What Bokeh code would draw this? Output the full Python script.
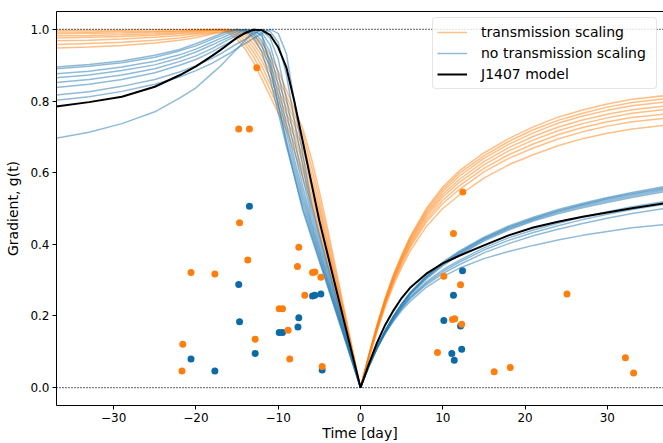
from bokeh.plotting import figure
from bokeh.models import (Range1d, LinearAxis, Span, Legend, LegendItem,
                          CustomJSTickFormatter, FixedTicker)
from bokeh.embed import file_html
from bokeh.resources import INLINE

# ---------------- data ----------------
T_LEFT = [-37, -33, -29, -25, -22, -20, -18, -17, -16, -15, -14, -13, -12, -11, -10,
          -9, -8, -7, -6, -5, -4, -3, -2, -1, 0]
T_RIGHT = [0, 1, 2, 3, 4, 5, 6, 8, 10, 12, 15, 18, 21, 24, 27, 30, 33, 37]

# transmission scaling curves (before / after t = 0)
o1_pre = [0.998, 0.998, 0.998, 0.999, 0.999, 1.0, 1.0, 0.999, 0.990, 0.972, 0.945, 0.908, 0.862, 0.814, 0.767, 0.719, 0.657, 0.586, 0.514, 0.431, 0.345, 0.259, 0.172, 0.086, 0.0]
o2_pre = [0.993, 0.993, 0.994, 0.995, 0.996, 0.998, 0.999, 1.0, 0.995, 0.981, 0.957, 0.924, 0.880, 0.832, 0.783, 0.734, 0.678, 0.604, 0.530, 0.446, 0.357, 0.268, 0.179, 0.089, 0.0]
o3_pre = [0.988, 0.989, 0.990, 0.992, 0.994, 0.996, 0.999, 1.0, 0.998, 0.988, 0.967, 0.937, 0.898, 0.848, 0.799, 0.749, 0.700, 0.623, 0.546, 0.463, 0.370, 0.278, 0.185, 0.093, 0.0]
o4_pre = [0.982, 0.983, 0.985, 0.988, 0.991, 0.994, 0.998, 1.0, 1.0, 0.993, 0.976, 0.949, 0.913, 0.865, 0.815, 0.765, 0.715, 0.644, 0.564, 0.481, 0.385, 0.288, 0.192, 0.096, 0.0]
o5_pre = [0.976, 0.978, 0.980, 0.984, 0.988, 0.991, 0.996, 0.998, 1.0, 0.997, 0.984, 0.960, 0.927, 0.882, 0.832, 0.781, 0.730, 0.666, 0.581, 0.495, 0.396, 0.297, 0.198, 0.099, 0.0]
o6_pre = [0.968, 0.970, 0.973, 0.978, 0.983, 0.988, 0.993, 0.996, 0.998, 0.999, 0.990, 0.970, 0.940, 0.900, 0.849, 0.797, 0.746, 0.691, 0.600, 0.509, 0.408, 0.306, 0.204, 0.102, 0.0]
o7_pre = [0.958, 0.961, 0.964, 0.970, 0.976, 0.983, 0.990, 0.993, 0.997, 1.0, 0.995, 0.979, 0.952, 0.915, 0.866, 0.813, 0.761, 0.708, 0.621, 0.528, 0.426, 0.319, 0.213, 0.106, 0.0]
o8_pre = [0.948, 0.951, 0.955, 0.962, 0.970, 0.977, 0.987, 0.991, 0.995, 0.999, 0.998, 0.986, 0.963, 0.930, 0.884, 0.830, 0.776, 0.722, 0.643, 0.548, 0.444, 0.333, 0.222, 0.111, 0.0]

o1_post = [0, 0.090, 0.175, 0.250, 0.315, 0.370, 0.420, 0.500, 0.560, 0.605, 0.655, 0.695, 0.728, 0.755, 0.775, 0.792, 0.805, 0.815]
o2_post = [0, 0.089, 0.173, 0.247, 0.312, 0.366, 0.416, 0.495, 0.554, 0.598, 0.647, 0.687, 0.720, 0.746, 0.766, 0.783, 0.796, 0.806]
o3_post = [0, 0.088, 0.171, 0.245, 0.308, 0.362, 0.411, 0.489, 0.547, 0.590, 0.640, 0.679, 0.711, 0.738, 0.758, 0.774, 0.787, 0.797]
o4_post = [0, 0.087, 0.168, 0.241, 0.305, 0.358, 0.406, 0.483, 0.539, 0.581, 0.631, 0.670, 0.701, 0.727, 0.747, 0.763, 0.776, 0.786]
o5_post = [0, 0.085, 0.166, 0.238, 0.301, 0.354, 0.401, 0.477, 0.532, 0.573, 0.622, 0.661, 0.691, 0.717, 0.737, 0.753, 0.766, 0.776]
o6_post = [0, 0.084, 0.163, 0.235, 0.297, 0.349, 0.395, 0.469, 0.523, 0.563, 0.612, 0.650, 0.680, 0.706, 0.726, 0.742, 0.754, 0.764]
o7_post = [0, 0.082, 0.160, 0.231, 0.292, 0.343, 0.390, 0.462, 0.514, 0.553, 0.602, 0.640, 0.669, 0.694, 0.714, 0.730, 0.742, 0.752]
o8_post = [0, 0.080, 0.155, 0.225, 0.285, 0.335, 0.380, 0.450, 0.500, 0.537, 0.585, 0.622, 0.650, 0.675, 0.695, 0.710, 0.722, 0.732]

# no transmission scaling curves
b1_pre = [0.696, 0.713, 0.737, 0.770, 0.808, 0.837, 0.878, 0.898, 0.922, 0.946, 0.970, 0.994, 0.986, 0.900, 0.789, 0.681, 0.586, 0.493, 0.422, 0.352, 0.282, 0.211, 0.141, 0.070, 0.0]
b2_pre = [0.895, 0.902, 0.912, 0.928, 0.944, 0.960, 0.978, 0.987, 0.996, 1.0, 0.995, 0.977, 0.938, 0.862, 0.767, 0.674, 0.587, 0.500, 0.429, 0.357, 0.286, 0.214, 0.143, 0.071, 0.0]
b3_pre = [0.890, 0.897, 0.907, 0.922, 0.940, 0.954, 0.973, 0.982, 0.991, 1.0, 0.998, 0.987, 0.955, 0.890, 0.790, 0.691, 0.602, 0.513, 0.438, 0.365, 0.292, 0.219, 0.146, 0.073, 0.0]
b4_pre = [0.876, 0.883, 0.895, 0.911, 0.929, 0.945, 0.965, 0.975, 0.985, 0.995, 1.0, 0.993, 0.969, 0.915, 0.816, 0.711, 0.618, 0.527, 0.448, 0.373, 0.298, 0.224, 0.149, 0.075, 0.0]
b5_pre = [0.865, 0.873, 0.885, 0.901, 0.920, 0.937, 0.957, 0.968, 0.978, 0.989, 1.0, 0.998, 0.981, 0.937, 0.844, 0.733, 0.635, 0.542, 0.458, 0.382, 0.305, 0.229, 0.153, 0.076, 0.0]
b6_pre = [0.852, 0.860, 0.873, 0.890, 0.910, 0.926, 0.947, 0.960, 0.972, 0.983, 0.994, 1.0, 0.991, 0.957, 0.878, 0.767, 0.660, 0.560, 0.469, 0.391, 0.313, 0.234, 0.156, 0.078, 0.0]
b7_pre = [0.838, 0.847, 0.860, 0.879, 0.900, 0.916, 0.938, 0.951, 0.963, 0.976, 0.988, 1.0, 0.997, 0.976, 0.918, 0.806, 0.689, 0.584, 0.484, 0.403, 0.323, 0.242, 0.161, 0.081, 0.0]
b8_pre = [0.817, 0.826, 0.841, 0.860, 0.881, 0.899, 0.920, 0.932, 0.946, 0.960, 0.973, 0.987, 1.0, 0.995, 0.964, 0.873, 0.740, 0.618, 0.500, 0.417, 0.333, 0.250, 0.167, 0.083, 0.0]
b9_pre = [0.802, 0.812, 0.827, 0.847, 0.867, 0.885, 0.906, 0.919, 0.932, 0.947, 0.961, 0.975, 0.989, 1.0, 0.989, 0.932, 0.792, 0.648, 0.519, 0.427, 0.342, 0.256, 0.171, 0.085, 0.0]

b1_post = [0, 0.058, 0.110, 0.150, 0.185, 0.215, 0.240, 0.280, 0.310, 0.333, 0.360, 0.380, 0.397, 0.412, 0.425, 0.436, 0.446, 0.455]
b2_post = [0, 0.060, 0.115, 0.160, 0.200, 0.235, 0.265, 0.312, 0.350, 0.381, 0.420, 0.451, 0.476, 0.497, 0.515, 0.531, 0.545, 0.562]
b3_post = [0, 0.060, 0.114, 0.159, 0.199, 0.233, 0.263, 0.310, 0.348, 0.378, 0.417, 0.448, 0.473, 0.494, 0.512, 0.528, 0.542, 0.558]
b4_post = [0, 0.060, 0.113, 0.158, 0.198, 0.232, 0.262, 0.308, 0.346, 0.376, 0.415, 0.446, 0.471, 0.492, 0.510, 0.525, 0.539, 0.555]
b5_post = [0, 0.059, 0.112, 0.157, 0.196, 0.230, 0.260, 0.306, 0.343, 0.373, 0.412, 0.443, 0.468, 0.489, 0.506, 0.521, 0.535, 0.551]
b6_post = [0, 0.059, 0.111, 0.156, 0.195, 0.228, 0.258, 0.303, 0.340, 0.370, 0.409, 0.440, 0.465, 0.485, 0.502, 0.517, 0.531, 0.547]
b7_post = [0, 0.059, 0.110, 0.155, 0.193, 0.225, 0.253, 0.295, 0.329, 0.355, 0.390, 0.418, 0.440, 0.459, 0.476, 0.491, 0.505, 0.520]
b8_post = [0, 0.058, 0.109, 0.153, 0.190, 0.222, 0.250, 0.291, 0.324, 0.350, 0.384, 0.411, 0.433, 0.452, 0.469, 0.484, 0.497, 0.512]
b9_post = [0, 0.058, 0.108, 0.152, 0.188, 0.220, 0.247, 0.287, 0.318, 0.343, 0.376, 0.402, 0.424, 0.442, 0.458, 0.473, 0.486, 0.500]

# J1407 model
j_pre = [0.785, 0.797, 0.812, 0.840, 0.872, 0.897, 0.927, 0.943, 0.960, 0.977, 0.990, 0.999, 0.998, 0.985, 0.950, 0.893, 0.795, 0.685, 0.575, 0.466, 0.372, 0.279, 0.186, 0.093, 0.0]
j_post = [0, 0.065, 0.125, 0.175, 0.215, 0.250, 0.278, 0.318, 0.347, 0.368, 0.397, 0.425, 0.447, 0.463, 0.477, 0.489, 0.501, 0.515]

# measured gradients
orange_t = [-21.6, -21.7, -20.6, -17.7, -14.7, -13.7, -12.8, -9.88, -9.48, -8.8, -8.6, -7.5, -7.66,
            -6.77, -5.83, -5.55, -4.82, -4.66, -14.8, -13.5, -12.6, 11.3, 10.13, 12.16, 25.1,
            11.18, 11.46, 12.3, 9.36, 16.25, 18.2, 32.2, 33.2, 12.43]
orange_g = [0.121, 0.046, 0.321, 0.317, 0.460, 0.356, 0.135, 0.220, 0.220, 0.160, 0.080, 0.392, 0.338,
            0.258, 0.321, 0.323, 0.308, 0.059, 0.722, 0.722, 0.893, 0.430, 0.311, 0.287, 0.261,
            0.190, 0.192, 0.177, 0.098, 0.044, 0.056, 0.083, 0.041, 0.546]
blue_t = [-20.6, -17.7, -14.8, -14.7, -12.8, -9.88, -9.48, -7.6, -7.5, -5.83, -5.55, -4.82, -4.66,
          -13.5, 12.4, 11.3, 10.13, 12.16, 11.1, 12.3, 11.4]
blue_g = [0.080, 0.046, 0.288, 0.184, 0.095, 0.154, 0.154, 0.169, 0.195, 0.256, 0.258, 0.261, 0.049,
          0.506, 0.326, 0.258, 0.187, 0.172, 0.095, 0.107, 0.076]

X_TICKS = [-30, -20, -10, 0, 10, 20, 30]
Y_TICKS = [0.0, 0.2, 0.4, 0.6, 0.8, 1.0]

ORANGE = "#ff7f0e"
BLUE = "#1f77b4"
DOT_BLUE = "#0c6aa6"
FONT = "DejaVu Sans"

# ---------------- figure ----------------
p = figure(width=663, height=443, output_backend="svg", toolbar_location=None,
           x_range=Range1d(-36.95, 36.83), y_range=Range1d(-0.05, 1.05),
           min_border_left=56, min_border_right=0, min_border_top=11, min_border_bottom=38)
p.outline_line_color = None
p.xgrid.visible = False
p.ygrid.visible = False
p.background_fill_color = "white"
p.border_fill_color = "white"

for ax in (p.xaxis[0], p.yaxis[0]):
    ax.axis_line_color = "black"
    ax.axis_line_width = 1
    ax.major_tick_line_color = "black"
    ax.major_tick_in = 0
    ax.major_tick_out = 4
    ax.minor_tick_line_color = None
    ax.major_label_text_font = FONT
    ax.major_label_text_font_size = "12px"
    ax.major_label_text_color = "black"
    ax.axis_label_text_font = FONT
    ax.axis_label_text_font_size = "14px"
    ax.axis_label_text_font_style = "normal"
    ax.axis_label_text_color = "black"
    ax.major_label_standoff = 3

p.xaxis[0].ticker = FixedTicker(ticks=X_TICKS)
p.yaxis[0].ticker = FixedTicker(ticks=Y_TICKS)
p.xaxis[0].formatter = CustomJSTickFormatter(
    code="return (tick < 0 ? '\u2212' : '') + Math.abs(tick).toFixed(0);")
p.yaxis[0].formatter = CustomJSTickFormatter(code="return tick.toFixed(1);")
p.xaxis[0].axis_label = "Time [day]"
p.yaxis[0].axis_label = "Gradient, g(t)"
p.xaxis[0].axis_label_standoff = 0
p.yaxis[0].axis_label_standoff = 6

top = LinearAxis(ticker=FixedTicker(ticks=[]), axis_line_color="black", axis_line_width=1,
                 major_tick_line_color=None, minor_tick_line_color=None)
p.add_layout(top, "above")

p.add_layout(Span(location=1.0, dimension="width", line_color="black", line_width=1.2,
                  line_dash="1 2"))
p.add_layout(Span(location=0.0, dimension="width", line_color="black", line_width=1.2,
                  line_dash="1 2"))

t_all = T_LEFT + T_RIGHT[1:]

orange_curves = [(o1_pre, o1_post), (o2_pre, o2_post), (o3_pre, o3_post), (o4_pre, o4_post),
                 (o5_pre, o5_post), (o6_pre, o6_post), (o7_pre, o7_post), (o8_pre, o8_post)]
blue_curves = [(b1_pre, b1_post), (b2_pre, b2_post), (b3_pre, b3_post), (b4_pre, b4_post),
               (b5_pre, b5_post), (b6_pre, b6_post), (b7_pre, b7_post), (b8_pre, b8_post),
               (b9_pre, b9_post)]

o_r = []
for pre, post in orange_curves:
    o_r.append(p.line(t_all, pre + post[1:], line_color=ORANGE, line_alpha=0.5, line_width=1.5))
b_r = []
for pre, post in blue_curves:
    b_r.append(p.line(t_all, pre + post[1:], line_color=BLUE, line_alpha=0.5, line_width=1.5))
j_r = p.line(t_all, j_pre + j_post[1:], line_color="black", line_width=2)

p.scatter(blue_t, blue_g, size=7, fill_color=DOT_BLUE, line_color=None)
p.scatter(orange_t, orange_g, size=7, fill_color=ORANGE, line_color=None)

legend = Legend(items=[LegendItem(label="transmission scaling", renderers=[o_r[0]]),
                       LegendItem(label="no transmission scaling", renderers=[b_r[0]]),
                       LegendItem(label="J1407 model", renderers=[j_r])],
                location="top_right", margin=6, padding=4, spacing=1,
                label_height=20, glyph_height=20, glyph_width=30, label_standoff=14,
                label_width=171, label_text_font=FONT, label_text_font_size="14px",
                label_text_color="black", border_line_color="#cccccc",
                background_fill_color="white", background_fill_alpha=0.8)
try:
    legend.border_radius = 4
except Exception:
    pass
p.add_layout(legend)

open("out.html", "w").write(file_html(p, INLINE))
